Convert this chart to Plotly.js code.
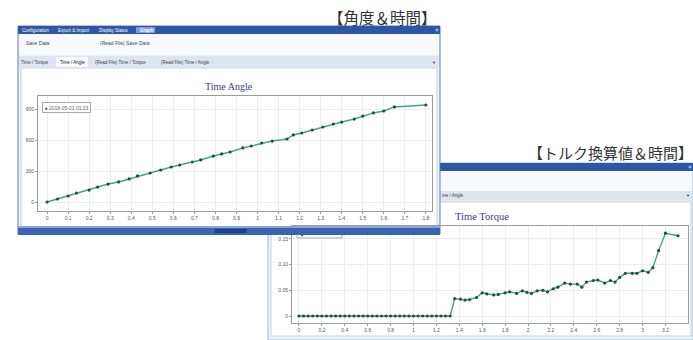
<!DOCTYPE html>
<html><head><meta charset="utf-8">
<script src="https://cdn.plot.ly/plotly-3.0.1.min.js"></script>
<style>html,body{margin:0;padding:0;background:#fff;}#chart{width:693px;height:340px;}</style>
</head><body><div id="chart"></div>
<script>
// ---- data: Time / Angle ----
const angleTime = [0,0.05,0.1,0.14,0.2,0.24,0.29,0.34,0.39,0.43,0.49,0.54,0.59,0.63,0.69,0.73,0.79,0.83,0.87,0.93,0.97,1.02,1.07,1.14,1.17,1.21,1.26,1.31,1.36,1.4,1.46,1.5,1.55,1.6,1.65,1.8];
const angleDeg  = [0,29,58,87,116,145,174,194,223,252,281,310,339,358,387,407,445,465,484,523,542,571,590,610,649,668,697,726,755,774,803,832,862,881,920,939];
const angleXTicks = [0,0.1,0.2,0.3,0.4,0.5,0.6,0.7,0.8,0.9,1,1.1,1.2,1.3,1.4,1.5,1.6,1.7,1.8];
const angleXLabels = ['0','0.1','0.2','0.3','0.4','0.5','0.6','0.7','0.8','0.9','1','1.1','1.2','1.3','1.4','1.5','1.6','1.7','1.8'];
const angleYTicks = [0,300,600,900];
const angleYLabels = ['0','300','600','900'];

// ---- data: Time / Torque ----
const torqueTime = [0,0.04,0.08,0.12,0.16,0.2,0.24,0.28,0.32,0.36,0.4,0.44,0.48,0.52,0.56,0.6,0.64,0.68,0.72,0.76,0.8,0.84,0.88,0.92,0.96,1.0,1.04,1.08,1.12,1.16,1.2,1.24,1.28,1.32,
  1.36,1.41,1.45,1.49,1.55,1.6,1.64,1.7,1.74,1.8,1.84,1.9,1.95,1.99,2.03,2.08,2.13,2.17,2.22,2.26,2.32,2.37,2.43,2.47,2.51,2.57,2.61,2.67,2.72,2.76,2.8,2.85,2.91,2.95,3.0,3.05,3.09,3.14,3.2,3.31];
const torqueVal = [0,0,0,0,0,0,0,0,0,0,0,0,0,0,0,0,0,0,0,0,0,0,0,0,0,0,0,0,0,0,0,0,0,0,
  0.034,0.033,0.031,0.032,0.036,0.045,0.043,0.041,0.042,0.045,0.047,0.044,0.049,0.046,0.044,0.049,0.05,0.047,0.053,0.056,0.064,0.062,0.062,0.056,0.066,0.069,0.07,0.064,0.069,0.066,0.075,0.083,0.083,0.083,0.088,0.085,0.094,0.127,0.161,0.156];
const torqueXTicks = [0,0.2,0.4,0.6,0.8,1,1.2,1.4,1.6,1.8,2,2.2,2.4,2.6,2.8,3,3.2];
const torqueXLabels = ['0','0.2','0.4','0.6','0.8','1','1.2','1.4','1.6','1.8','2','2.2','2.4','2.6','2.8','3','3.2'];
const torqueYTicks = [0,0.05,0.1,0.15];
const torqueYLabels = ['0','0.05','0.10','0.15'];

const seriesName = '2018-05-01 01:23';

// ---- helpers (pixel -> paper) ----
const W = 693, H = 340;
const X = p => p / W, Y = p => 1 - p / H;
function rect(x0, y0, x1, y1, fill, line, layer) {
  return {type:'rect', xref:'paper', yref:'paper', x0:X(x0), x1:X(x1), y0:Y(y1), y1:Y(y0),
    fillcolor:fill, line:{color:line || fill, width: line ? 1 : 0}, layer: layer || 'below'};
}
function circ(cx, cy, r, fill, layer) {
  return {type:'circle', xref:'paper', yref:'paper', x0:X(cx-r), x1:X(cx+r), y0:Y(cy+r), y1:Y(cy-r),
    fillcolor:fill, line:{width:0}, layer: layer || 'below'};
}
function txt(x, y, s, size, color, anchor, family) {
  return {xref:'paper', yref:'paper', x:X(x), y:Y(y), text:s, showarrow:false,
    xanchor: anchor || 'left', yanchor:'middle', borderpad:0,
    font:{size:size, color:color, family: family || 'Liberation Sans, Arial, sans-serif'}};
}

const BLUE = '#2d57a6';
const shapes = [
  // window 2 (behind)
  rect(268, 163, 693, 340, '#eef3fa', '#9db8e0'),
  rect(268, 163, 693, 171, BLUE),
  rect(269, 171, 692, 191, '#f8f9fc'),
  rect(269, 191, 692, 201, '#dde5f0'),
  rect(271, 202, 691, 336, '#ffffff', '#c6d0de'),
  circ(690, 167, 1.5, '#8fb0e8'),
  // window 1 (front)
  rect(18, 26, 440, 234, '#eef2f8', '#5a7cbf'),
  rect(18, 26, 440, 34, BLUE),
  rect(136, 27, 155, 33, '#7c9edc'),
  rect(19, 34, 439, 55, '#f8f9fc'),
  rect(19, 56, 439, 67, '#dde5f0'),
  rect(56, 57, 88, 67, '#f7f9fc'),
  rect(21, 68, 437, 227, '#ffffff', '#c6d0de'),
  circ(437, 30, 1.5, '#8fb0e8'),
  // window 2 legend (partly hidden under window 1)
  rect(297, 229, 342, 238, '#ffffff', '#a8a8a8', 'above'),
  circ(302, 235, 1.2, '#21513c', 'above'),
  // window 1 bottom bar (covers the top of window 2)
  rect(18, 226, 440, 235, '#3a63b2', null, 'above'),
  rect(18, 226, 440, 228, '#8aa6da', null, 'above'),
  rect(215, 229, 247, 233, '#1d3f84', null, 'above')
];

const annotations = [
  txt(327, 16.5, '【角度＆時間】', 15.5, '#333333', 'left', 'Noto Sans CJK JP'),
  txt(527, 152, '【トルク換算値＆時間】', 15, '#333333', 'left', 'Noto Sans CJK JP'),
  // window 1 title bar
  txt(21, 30, 'Configuration', 4.5, '#ffffff'),
  txt(57, 30, 'Export &amp; Import', 4.5, '#ffffff'),
  txt(98, 30, 'Display Status', 4.5, '#ffffff'),
  txt(139, 30, '<b>Graph</b>', 4.5, '#ffffff'),
  // window 1 toolbar and tabs
  txt(25, 43, 'Save Data', 5, '#444444'),
  txt(99, 43, '(Read File) Save Data', 5, '#444444'),
  txt(20, 62, 'Time / Torque', 4.5, '#444444'),
  txt(59, 62, 'Time / Angle', 4.5, '#222222'),
  txt(94, 62, '(Read File) Time / Torque', 4.5, '#444444'),
  txt(160, 62, '(Read File) Time / Angle', 4.5, '#444444'),
  txt(434, 62, '▼', 4, '#333333', 'center'),
  // window 2 tabs
  txt(441, 196, 'me / Angle', 4.5, '#444444'),
  txt(688, 196, '▼', 4, '#333333', 'center'),
  // chart titles
  txt(229, 86, 'Time Angle', 10, '#3c3a8c', 'center', 'Liberation Serif, DejaVu Serif, serif'),
  txt(482, 216, 'Time Torque', 10.5, '#3c3a8c', 'center', 'Liberation Serif, DejaVu Serif, serif'),
  // chart 1 legend
  {xref:'paper', yref:'paper', x:X(42), y:Y(101.5), xanchor:'left', yanchor:'top', showarrow:false,
   text:"<span style='color:#21513c'>●</span> " + seriesName,
   font:{size:5, color:'#666666', family:'Liberation Sans, Arial, sans-serif'},
   bgcolor:'#ffffff', bordercolor:'#a8a8a8', borderwidth:1, borderpad:1.5}
];

const axStyle = {
  showgrid:true, gridcolor:'#ededed', gridwidth:1, zeroline:false,
  showline:true, linecolor:'#9a9a9a', linewidth:1, mirror:true,
  ticks:'outside', ticklen:2, tickcolor:'#9a9a9a',
  tickfont:{size:5, color:'#555555', family:'Liberation Sans, Arial, sans-serif'},
  fixedrange:true, tickmode:'array'
};

const traces = [
  {x:angleTime, y:angleDeg, type:'scatter', mode:'lines+markers', xaxis:'x', yaxis:'y', name:seriesName,
   line:{color:'#3fa58c', width:1.4}, marker:{size:3.2, color:'#21513c'}, showlegend:false},
  {x:torqueTime, y:torqueVal, type:'scatter', mode:'lines+markers', xaxis:'x2', yaxis:'y2', name:seriesName,
   line:{color:'#3fa58c', width:1.4}, marker:{size:3.2, color:'#21513c'}, showlegend:false}
];

const layout = {
  width:W, height:H, margin:{l:0, r:0, t:0, b:0},
  paper_bgcolor:'#ffffff', plot_bgcolor:'rgba(0,0,0,0)', showlegend:false,
  xaxis: Object.assign({}, axStyle, {domain:[X(38), X(432)], range:[-0.043, 1.829], anchor:'y',
    tickvals:angleXTicks, ticktext:angleXLabels}),
  yaxis: Object.assign({}, axStyle, {domain:[Y(211), Y(96)], range:[-87, 1026], anchor:'x',
    tickvals:angleYTicks, ticktext:angleYLabels}),
  xaxis2: Object.assign({}, axStyle, {domain:[X(292), X(688)], range:[-0.061, 3.397], anchor:'y2',
    tickvals:torqueXTicks, ticktext:torqueXLabels}),
  yaxis2: Object.assign({}, axStyle, {domain:[Y(323), Y(226)], range:[-0.0136, 0.175], anchor:'x2',
    tickvals:torqueYTicks, ticktext:torqueYLabels}),
  shapes: shapes,
  annotations: annotations
};

Plotly.newPlot('chart', traces, layout, {staticPlot:true, displayModeBar:false});
</script></body></html>
